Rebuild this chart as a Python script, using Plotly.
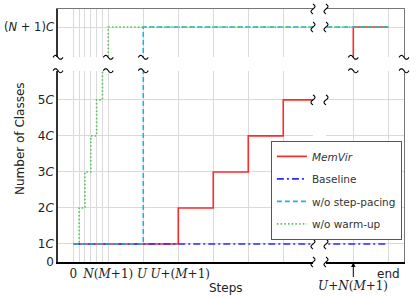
import math
import plotly.graph_objects as go

# ---------------- data ----------------
x_memvir = [0, 18, 24, 30, 36, 48, 60, 66]
y_memvir = [1, 2, 3, 4, 5, 6, 10, 10]
x_baseline = [0, 66]
y_baseline = [1, 1]
x_nopacing = [0, 12, 66]
y_nopacing = [1, 10, 10]
x_nowarm = [0, 1, 2, 3, 4, 5, 6, 66]
y_nowarm = [1, 2, 3, 4, 5, 6, 10, 10]

left_tickvals = [0, 1, 2, 3, 4, 5, 6, 12, 18, 24, 30, 36]
left_ticktext = ['0', '', '', '', '', '', '<i>N</i>(<i>M</i>+1)', '<i>U</i>\u2009',
                 '\u00a0<i>U</i>+(<i>M</i>+1)', '', '', '']
right_tickvals = [60, 66]
right_ticktext = ['', 'end']
low_tickvals = [0.5, 1, 2, 3, 4, 5]
low_ticktext = ['0', '1<i>C</i>', '2<i>C</i>', '3<i>C</i>', '4<i>C</i>', '5<i>C</i>']
high_tickvals = [10]
high_ticktext = ['(<i>N</i> + 1)<i>C</i>']
break_label = '<i>U</i>+<i>N</i>(<i>M</i>+1)'

series = [
    dict(name='<i>MemVir</i>', x=x_memvir, y=y_memvir, color='#ff2a2a', dash='solid'),
    dict(name='Baseline', x=x_baseline, y=y_baseline, color='#2a2aff', dash='7px,3px,2px,3px'),
    dict(name='w/o step-pacing', x=x_nopacing, y=y_nopacing, color='#1fb0ee', dash='5px,3px'),
    dict(name='w/o warm-up', x=x_nowarm, y=y_nowarm, color='#55c455', dash='1.5px,2.2px'),
]

# ---------------- layout geometry ----------------
W_FIG, H_FIG = 416, 298
L, R, T, B = 58, 12, 9, 36
PW = W_FIG - L - R
PH = H_FIG - T - B


def px_x(p):
    return (p - L) / PW


def px_y(p):
    return 1 - (p - T) / PH


xl_dom = [0, px_x(313)]
xr_dom = [px_x(326), 1]
yb_dom = [0, px_y(70.7)]
yt_dom = [px_y(57.3), 1]
xl_range = [-2.62, 41.1]
xr_range = [55.32, 68.69]
yb_range = [0.5, 5.81]
yt_range = [9.158, 10.5]


def data_to_px_x(v, dom, rng):
    f = dom[0] + (dom[1] - dom[0]) * (v - rng[0]) / (rng[1] - rng[0])
    return L + f * PW


def data_to_px_y(v, dom, rng):
    f = dom[0] + (dom[1] - dom[0]) * (v - rng[0]) / (rng[1] - rng[0])
    return T + (1 - f) * PH


fig = go.Figure()
pairs = [('x', 'y'), ('x2', 'y2'), ('x3', 'y3'), ('x4', 'y4')]
for i, (xa, ya) in enumerate(pairs):
    for s in series:
        fig.add_trace(go.Scatter(
            x=s['x'], y=s['y'], mode='lines', line_shape='hv',
            line=dict(color=s['color'], width=1.6, dash=s['dash']),
            name=s['name'], legendgroup=s['name'], showlegend=(i == 0),
            xaxis=xa, yaxis=ya, hoverinfo='skip'))

grid = '#dadada'
SANS = 'DejaVu Sans'
SERIF = 'DejaVu Serif'
common = dict(showgrid=True, gridcolor=grid, gridwidth=1, zeroline=False,
              ticks='', automargin=False, tickangle=0)

fig.update_layout(
    width=W_FIG, height=H_FIG,
    margin=dict(l=L, r=R, t=T, b=B, autoexpand=False),
    paper_bgcolor='white', plot_bgcolor='white',
    font=dict(family=SANS, size=12, color='#222'),
    xaxis=dict(domain=xl_dom, range=xl_range, anchor='y', tickvals=left_tickvals,
               ticktext=left_ticktext, showline=True, linecolor='black', linewidth=1.5,
               tickfont=dict(family=SERIF, size=12, color='#222'), **common),
    yaxis=dict(domain=yb_dom, range=yb_range, anchor='x', tickvals=low_tickvals,
               ticktext=low_ticktext, showline=True, linecolor='#333', linewidth=1.5,
               tickfont=dict(family=SANS, size=12, color='#222'), **common),
    xaxis2=dict(domain=xr_dom, range=xr_range, anchor='y2', tickvals=right_tickvals,
                ticktext=right_ticktext, showline=True, linecolor='black', linewidth=1.5,
                tickfont=dict(family=SANS, size=12, color='#222'), **common),
    yaxis2=dict(domain=yb_dom, range=yb_range, anchor='x2', side='right',
                tickvals=low_tickvals[1:], showticklabels=False, showline=True,
                linecolor='#777', linewidth=1.3, **common),
    xaxis3=dict(domain=xl_dom, range=xl_range, anchor='y3', side='top',
                tickvals=left_tickvals, showticklabels=False, showline=True,
                linecolor='#777', linewidth=1.3, **common),
    yaxis3=dict(domain=yt_dom, range=yt_range, anchor='x3', tickvals=high_tickvals,
                ticktext=high_ticktext, showline=True, linecolor='#333', linewidth=1.5,
                tickfont=dict(family=SANS, size=11.5, color='#222'), **common),
    xaxis4=dict(domain=xr_dom, range=xr_range, anchor='y4', side='top',
                tickvals=right_tickvals, showticklabels=False, showline=True,
                linecolor='#777', linewidth=1.3, **common),
    yaxis4=dict(domain=yt_dom, range=yt_range, anchor='x4', side='right',
                tickvals=high_tickvals, showticklabels=False, showline=True,
                linecolor='#777', linewidth=1.3, **common),
    legend=dict(x=px_x(270.7), y=px_y(140.7), xanchor='left', yanchor='top',
                bgcolor='white', bordercolor='#555', borderwidth=1.2,
                font=dict(family=SANS, size=10.5, color='#333'),
                tracegroupgap=3.5, itemwidth=30),
    showlegend=True,
)


# ---------------- break marks ----------------
def squiggle(cx, cy, vertical=False, half=5.0, amp=2.0, n=16):
    pts = []
    for k in range(n + 1):
        t = k / n
        a = -half + 2 * half * t
        b = amp * math.sin(2 * math.pi * t)
        if vertical:
            px, py = cx + b, cy + a
        else:
            px, py = cx + a, cy - b
        pts.append((px_x(px), px_y(py)))
    return 'M ' + ' L '.join(f'{p[0]:.5f},{p[1]:.5f}' for p in pts)


shapes = []
ybreak_x = [L, data_to_px_x(6, xl_dom, xl_range), data_to_px_x(12, xl_dom, xl_range),
            data_to_px_x(60, xr_dom, xr_range), L + PW]
ybreak_y = [data_to_px_y(yt_range[0], yt_dom, yt_range), data_to_px_y(yb_range[1], yb_dom, yb_range)]
for cx in ybreak_x:
    for cy in ybreak_y:
        shapes.append(dict(type='path', xref='paper', yref='paper', path=squiggle(cx, cy),
                           line=dict(color='black', width=1.1)))
xbreak_x = [L + xl_dom[1] * PW, L + xr_dom[0] * PW]
xbreak_y = [T, data_to_px_y(10, yt_dom, yt_range), data_to_px_y(5, yb_dom, yb_range),
            data_to_px_y(1, yb_dom, yb_range), T + PH]
for cx in xbreak_x:
    for cy in xbreak_y:
        shapes.append(dict(type='path', xref='paper', yref='paper',
                           path=squiggle(cx, cy, vertical=True),
                           line=dict(color='black', width=1.1)))
fig.update_layout(shapes=shapes)

annotations = [
    dict(text='Steps', xref='paper', yref='paper', x=px_x(225.5), y=px_y(288),
         xanchor='center', yanchor='middle',
         showarrow=False, font=dict(family=SANS, size=12, color='#222')),
    dict(text='Number of Classes', xref='paper', yref='paper', x=px_x(20), y=px_y(139),
         xanchor='center', yanchor='middle',
         showarrow=False, textangle=-90, font=dict(family=SANS, size=12, color='#222')),
    dict(text=break_label, xref='x2', yref='paper', x=60, y=px_y(262.5),
         showarrow=True, ax=0, ay=23, arrowhead=2, arrowsize=0.9, arrowwidth=1,
         arrowcolor='black', font=dict(family=SERIF, size=12, color='#222')),
]
fig.update_layout(annotations=annotations)

fig.write_html('out.html', config={'displayModeBar': False},
               post_script="document.body.style.margin='0';")
